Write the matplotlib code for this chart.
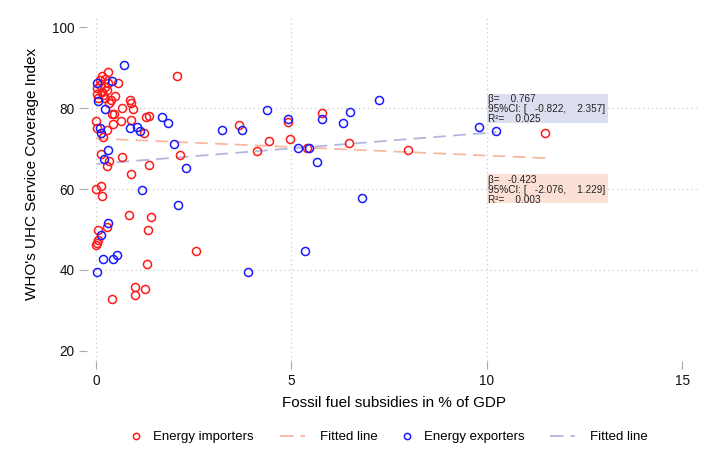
import matplotlib
matplotlib.use("Agg")
import matplotlib.pyplot as plt
from matplotlib.lines import Line2D
from matplotlib.patches import Rectangle
import numpy as np

plt.rcParams['font.family'] = ['Liberation Sans', 'DejaVu Sans']

# energy importers (red)
imp_x = [0.30, 0.15, 0.10, 0.23, 0.31, 0.10, 0.23, 0.02, 0.15, 0.27,
         0.02, 0.19, 0.06, 0.23, 0.57, 0.38, 0.49, 0.33, 0.87, 0.90,
         0.94, 0.67, 0.40, 0.46, 1.28, 1.36, 0.00, 0.89, 0.63, 0.44,
         0.02, 0.27, 1.23, 0.19, 0.12, 0.34, 0.29, 0.67, 1.36, 2.15,
         0.89, 0.00, 0.13, 0.15, 0.85, 1.40, 0.06, 0.27, 1.32, 0.06,
         0.02, 0.00, 2.56, 1.31, 0.99, 1.01, 1.25, 0.42, 2.08, 3.67,
         4.42, 4.11, 4.92, 4.97, 5.78, 5.41, 6.48, 7.99, 11.49]
imp_y = [88.8, 87.9, 86.9, 87.3, 86.2, 85.7, 85.3, 84.9, 84.0, 84.4,
         83.6, 83.2, 82.4, 82.4, 86.1, 82.0, 83.0, 81.2, 82.0, 81.2,
         79.7, 79.9, 78.5, 78.5, 77.9, 78.0, 76.8, 77.0, 76.8, 76.0,
         75.1, 74.7, 73.8, 72.8, 68.6, 67.0, 65.7, 68.0, 65.9, 68.3,
         63.6, 60.0, 60.7, 58.4, 53.7, 53.0, 50.0, 50.5, 50.0, 47.4,
         46.7, 46.2, 44.6, 41.5, 35.7, 33.9, 35.3, 32.8, 88.0, 75.9,
         71.8, 69.5, 76.6, 72.3, 78.9, 70.2, 71.3, 69.6, 73.8]

# energy exporters (blue)
exp_x = [0.72, 0.02, 0.40, 0.06, 0.23, 0.10, 0.12, 0.87, 1.06, 1.13,
         1.70, 1.84, 2.00, 0.31, 0.20, 2.30, 1.18, 2.10, 0.31, 0.12,
         0.19, 0.44, 0.54, 0.03, 4.37, 3.22, 3.73, 4.92, 5.78, 6.33,
         6.51, 7.25, 5.18, 5.45, 5.65, 6.80, 5.34, 3.89, 9.80, 10.24]
exp_y = [90.6, 86.2, 86.7, 81.7, 79.7, 75.0, 73.8, 75.0, 75.4, 74.4,
         77.7, 76.2, 71.1, 69.6, 67.4, 65.2, 59.8, 56.0, 51.5, 48.7,
         42.7, 42.8, 43.8, 39.4, 79.5, 74.6, 74.7, 77.2, 77.4, 76.4,
         79.1, 81.9, 70.2, 70.2, 66.6, 57.8, 44.7, 39.4, 75.3, 74.3]

# fitted lines (intercept, slope)
imp_fit = (72.5, -0.423)
exp_fit = (66.2, 0.767)

imp_stats = ["β=   -0.423", "95%CI: [   -2.076,    1.229]", "R²=    0.003"]
exp_stats = ["β=    0.767", "95%CI: [   -0.822,    2.357]", "R²=    0.025"]

red = '#ff1a1a'
blue = '#1a1aff'
red_fit = '#f7b9a0'
blue_fit = '#b4b6e0'

fig = plt.figure(figsize=(7.09, 4.72), dpi=100)
ax = fig.add_axes([0.1227, 0.235, 0.865, 0.729])

ax.plot(imp_x, imp_y, 'o', mfc='none', mec=red, ms=5.8, mew=1.1, zorder=3)
xs = np.array([min(imp_x), max(imp_x)])
ax.plot(xs, imp_fit[0] + imp_fit[1] * xs, ls=(0, (7, 4)), color=red_fit, lw=1.3, zorder=2)
ax.plot(exp_x, exp_y, 'o', mfc='none', mec=blue, ms=5.8, mew=1.1, zorder=4)
xs = np.array([min(exp_x), max(exp_x)])
ax.plot(xs, exp_fit[0] + exp_fit[1] * xs, ls=(0, (7, 4)), color=blue_fit, lw=1.3, zorder=2)

# stat boxes
ax.add_patch(Rectangle((10.0, 76.4), 3.1, 7.2, facecolor='#dcdff0', edgecolor='none', zorder=1))
ax.add_patch(Rectangle((10.0, 56.5), 3.1, 7.1, facecolor='#fbe0d6', edgecolor='none', zorder=1))
ax.text(10.03, 83.5, "\n".join(exp_stats), fontsize=7.2, va='top', ha='left',
        linespacing=1.0, color='#222222', zorder=5)
ax.text(10.03, 63.5, "\n".join(imp_stats), fontsize=7.2, va='top', ha='left',
        linespacing=1.0, color='#222222', zorder=5)

ax.set_xlim(-0.23, 15.46)
ax.set_ylim(17.5, 102.5)
ax.set_xticks([0, 5, 10, 15])
ax.set_yticks([20, 40, 60, 80, 100])
for v in [0, 5, 10]:
    ax.axvline(v, color='#cccccc', lw=0.9, ls=(0, (1, 2.5)), zorder=0)
for v in [40, 60, 80]:
    ax.axhline(v, color='#cccccc', lw=0.9, ls=(0, (1, 2.5)), zorder=0)
for s in ax.spines.values():
    s.set_visible(False)
ax.tick_params(axis='both', direction='out', length=6, width=0.8, color='#aaaaaa',
               labelsize=9.8, labelcolor='#111111', pad=3)

ax.set_xlabel("Fossil fuel subsidies in % of GDP", fontsize=11, labelpad=6)
ax.set_ylabel("WHO's UHC Service Coverage Index", fontsize=11, labelpad=8)
ax.yaxis.set_label_coords(-0.079, 0.545)

# legend: one entry per box so each key sits where it does in the original
legend_items = [
    (Line2D([], [], ls='none', marker='o', mfc='none', mec=red, ms=4.5, mew=1.1),
     "Energy importers", 129.5, 1.0, 0.79),
    (Line2D([], [], ls=(0, (7.5, 3.8)), color=red_fit, lw=1.3),
     "Fitted line", 280, 1.9, 1.14),
    (Line2D([], [], ls='none', marker='o', mfc='none', mec=blue, ms=4.5, mew=1.1),
     "Energy exporters", 400.5, 1.0, 0.79),
    (Line2D([], [], ls=(0, (7.5, 3.8)), color=blue_fit, lw=1.3),
     "Fitted line", 550, 1.9, 1.14),
]
for h, lab, px, hl, pad in legend_items:
    leg = fig.legend([h], [lab], loc='center left', bbox_to_anchor=(px / 709, 0.074),
                     frameon=False, fontsize=9.5, handlelength=hl, handletextpad=pad,
                     borderpad=0, borderaxespad=0)

fig.savefig("out.png", dpi=100)
